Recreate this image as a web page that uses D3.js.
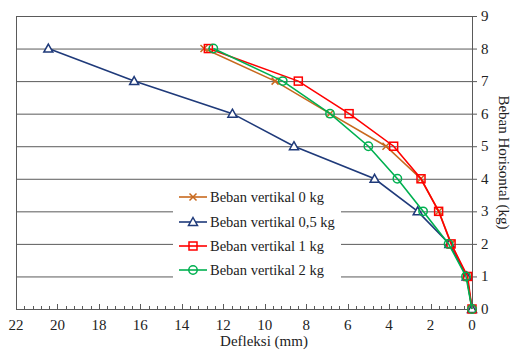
<!DOCTYPE html>
<html><head><meta charset="utf-8">
<script src="https://cdn.jsdelivr.net/npm/d3@7"></script>
<style>body{margin:0;background:#fff}svg{display:block}text{font-family:"Liberation Serif",serif}</style>
</head><body>
<svg id="c" width="511" height="354"></svg>
<script>
const loads = [0,1,2,3,4,5,6,7,8];
const seriesNames = ["Beban vertikal 0 kg","Beban vertikal 0,5 kg","Beban vertikal 1 kg","Beban vertikal 2 kg"];
const defl0  = [0,0.25,1.0,1.6,2.47,4.15,6.85,9.5,12.93];
const defl05 = [0,0.26,1.09,2.62,4.7,8.59,11.56,16.3,20.44];
const defl1  = [0,0.21,1.01,1.61,2.46,3.78,5.93,8.38,12.72];
const defl2  = [0,0.29,1.13,2.36,3.6,5.0,6.85,9.13,12.48];
const xTicks = [22,20,18,16,14,12,10,8,6,4,2,0];
const yTicks = [0,1,2,3,4,5,6,7,8,9];
const colors = ["#C8691E","#1F3A7A","#FF0000","#00B050"];
const markers = ["x","tri","sq","circ"];
const data = [defl0,defl05,defl1,defl2];

const svg = d3.select("#c");
const L=16, R=472, T=16, B=309;
const x = d3.scaleLinear().domain([22,0]).range([L,R]);
const y = d3.scaleLinear().domain([0,9]).range([B,T]);

svg.append("g").selectAll("line").data(yTicks.filter(d=>d>0)).join("line")
  .attr("x1",L).attr("x2",R).attr("y1",d=>y(d)+0.5).attr("y2",d=>y(d)+0.5)
  .attr("stroke","#5a5a5a").attr("stroke-width",1);
svg.append("line").attr("x1",L+0.5).attr("x2",L+0.5).attr("y1",T).attr("y2",B).attr("stroke","#5a5a5a");

const minor = d3.range(0,22.001,0.4);
svg.append("g").selectAll("line").data(minor).join("line")
  .attr("x1",d=>Math.round(x(d))+0.5).attr("x2",d=>Math.round(x(d))+0.5)
  .attr("y1",B).attr("y2",B-3).attr("stroke","#5a5a5a");
svg.append("g").selectAll("line").data(xTicks).join("line")
  .attr("x1",d=>Math.round(x(d))+0.5).attr("x2",d=>Math.round(x(d))+0.5)
  .attr("y1",B).attr("y2",B-5).attr("stroke","#5a5a5a");
svg.append("line").attr("x1",L).attr("x2",R).attr("y1",B+0.5).attr("y2",B+0.5).attr("stroke","#5a5a5a");
svg.append("g").selectAll("text").data(xTicks).join("text")
  .attr("x",d=>x(d)).attr("y",B+21).attr("text-anchor","middle")
  .attr("font-size",15).attr("fill","#222").text(d=>d);
svg.append("text").attr("x",(L+R)/2+20).attr("y",346).attr("text-anchor","middle")
  .attr("font-size",15).attr("fill","#222").text("Defleksi (mm)");

svg.append("line").attr("x1",R+0.5).attr("x2",R+0.5).attr("y1",T).attr("y2",B).attr("stroke","#5a5a5a");
svg.append("g").selectAll("line").data(yTicks).join("line")
  .attr("x1",R).attr("x2",R+5).attr("y1",d=>y(d)+0.5).attr("y2",d=>y(d)+0.5).attr("stroke","#5a5a5a");
svg.append("g").selectAll("text").data(yTicks).join("text")
  .attr("x",481).attr("y",d=>y(d)+5).attr("text-anchor","start")
  .attr("font-size",15).attr("fill","#222").text(d=>d);
svg.append("text").attr("transform",`translate(499,${(T+B)/2}) rotate(90)`).attr("text-anchor","middle")
  .attr("font-size",15).attr("fill","#222").text("Beban Horisontal (kg)");

function drawMarker(g,type,cx,cy,col){
  if(type==="x"){
    g.append("path").attr("d",`M${cx-3.5},${cy-3.5}L${cx+3.5},${cy+3.5}M${cx-3.5},${cy+3.5}L${cx+3.5},${cy-3.5}`)
      .attr("stroke",col).attr("stroke-width",1.5).attr("fill","none");
  } else if(type==="tri"){
    g.append("path").attr("d",`M${cx},${cy-4.5}L${cx+4.5},${cy+3.5}L${cx-4.5},${cy+3.5}Z`)
      .attr("stroke",col).attr("stroke-width",1.5).attr("fill","#fff");
  } else if(type==="sq"){
    g.append("rect").attr("x",cx-4).attr("y",cy-4).attr("width",8).attr("height",8)
      .attr("stroke",col).attr("stroke-width",1.5).attr("fill","none");
  } else {
    g.append("circle").attr("cx",cx).attr("cy",cy).attr("r",4.2)
      .attr("stroke",col).attr("stroke-width",1.5).attr("fill","none");
  }
}

const lg = svg.append("g");
lg.append("rect").attr("x",173).attr("y",185).attr("width",168).attr("height",97).attr("fill","#fff");

const line = d3.line().x(d=>x(d[0])).y(d=>y(d[1]));
data.forEach((arr,i)=>{
  const g = svg.append("g");
  const pts = arr.map((v,j)=>[v,loads[j]]);
  g.append("path").attr("d",line(pts)).attr("fill","none").attr("stroke",colors[i]).attr("stroke-width",1.6);
  pts.forEach(p=>drawMarker(g,markers[i],x(p[0]),y(p[1]),colors[i]));
});

const ly = [197,222,246,270];
seriesNames.forEach((n,i)=>{
  lg.append("line").attr("x1",179).attr("x2",207).attr("y1",ly[i]).attr("y2",ly[i]).attr("stroke",colors[i]).attr("stroke-width",1.6);
  drawMarker(lg,markers[i],193,ly[i],colors[i]);
  lg.append("text").attr("x",210).attr("y",ly[i]+5).attr("font-size",14.5).attr("fill","#222").text(n);
});
</script>
</body></html>
